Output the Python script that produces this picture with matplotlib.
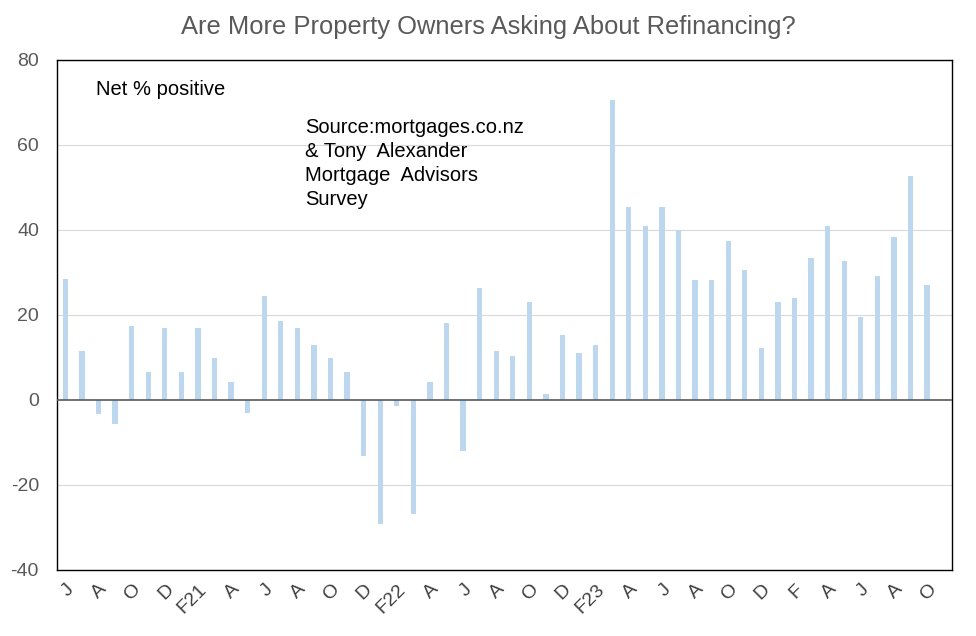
import numpy as np
import matplotlib
matplotlib.use('Agg')
from matplotlib import pyplot as plt

plt.rcParams['font.family'] = ['Liberation Sans', 'DejaVu Sans']
plt.rcParams['axes.unicode_minus'] = False

# monthly survey, Jun 2020 .. Oct 2024
net_positive = [28.5, 11.6, -3.4, -5.6, 17.3, 6.6, 17.0, 6.6, 17.0, 9.8,
                4.3, -3.0, 24.5, 18.7, 17.0, 12.9, 9.8, 6.5, -13.2, -29.1,
                -1.5, -26.8, 4.2, 18.0, -12.1, 26.4, 11.6, 10.3, 23.0, 1.4,
                15.3, 11.0, 12.9, 70.6, 45.3, 41.0, 45.3, 39.9, 28.2, 28.2,
                37.3, 30.5, 12.3, 23.1, 24.0, 33.4, 41.0, 32.7, 19.5, 29.1,
                38.4, 52.8, 27.0]
tick_labels = ['J', 'A', 'O', 'D', 'F21', 'A', 'J', 'A', 'O', 'D', 'F22', 'A',
               'J', 'A', 'O', 'D', 'F23', 'A', 'J', 'A', 'O', 'D', 'F', 'A',
               'J', 'A', 'O']
yticks = [-40, -20, 0, 20, 40, 60, 80]

fig = plt.figure(figsize=(9.76, 6.36), dpi=100)
ax = fig.add_axes([0.0584, 0.1038, 0.9170, 0.8019])

x = np.arange(len(net_positive))
ax.bar(x, net_positive, width=0.32, color='#BDD7EE', zorder=2)

ax.set_xlim(-0.5, len(net_positive) + 0.5)
ax.set_ylim(-40, 80)
ax.set_yticks(yticks)
for y in yticks[1:]:
    if y == 0:
        continue
    ax.axhline(y, color='#D9D9D9', lw=0.8, zorder=1)
ax.axhline(0, color='#595959', lw=1.2, zorder=3)

ax.set_xticks(x[::2])
ax.set_xticklabels(tick_labels, rotation=45, ha='right', va='top',
                   rotation_mode='anchor')
ax.tick_params(axis='x', length=0, pad=8, labelsize=14, labelcolor='#404040')
ax.tick_params(axis='y', length=0, pad=13, labelsize=14, labelcolor='#595959')
for s in ax.spines.values():
    s.set_color('black')
    s.set_linewidth(1.0)

ax.text(0.0436, 0.943, 'Net % positive', transform=ax.transAxes,
        fontsize=14.5, va='center', ha='left')
ax.text(0.277, 0.886, 'Source:mortgages.co.nz\n& Tony  Alexander\nMortgage  Advisors\nSurvey',
        transform=ax.transAxes, fontsize=14.5, va='top', ha='left', linespacing=1.33)

fig.suptitle('Are More Property Owners Asking About Refinancing?', y=0.976,
             fontsize=18.4, color='#595959')

fig.savefig('out.png', dpi=100)
